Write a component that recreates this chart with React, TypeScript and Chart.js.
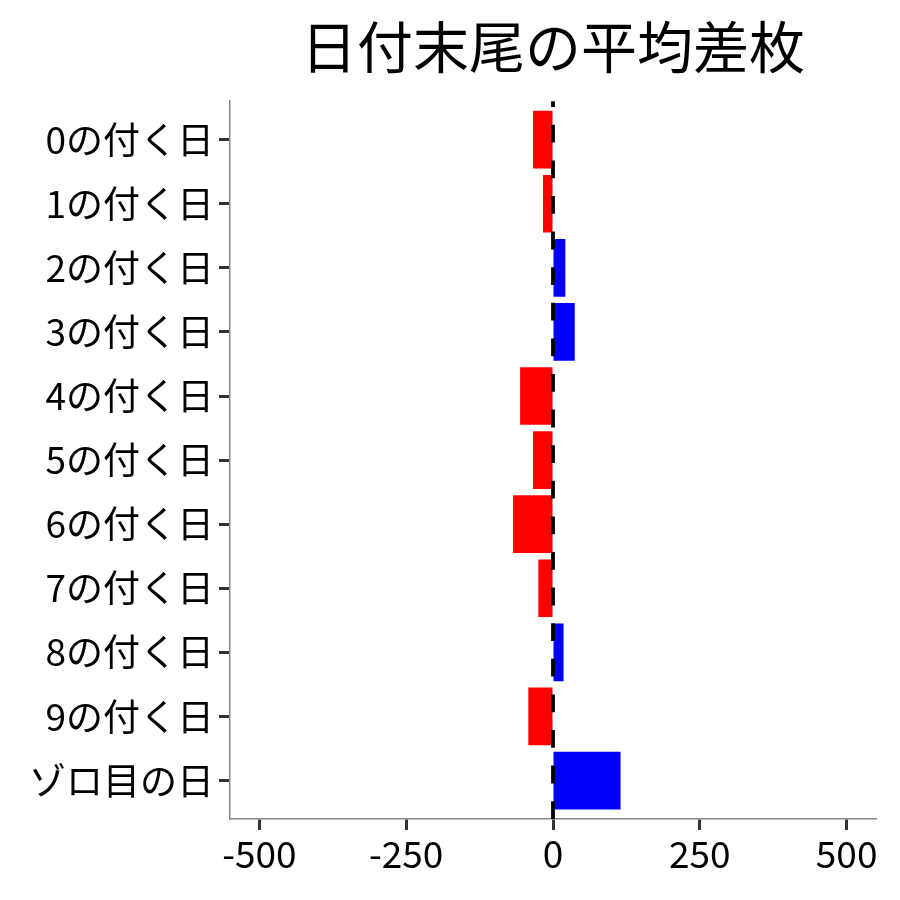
import React, { useEffect, useRef } from "react";
import { Chart, registerables } from "chart.js";

Chart.register(...registerables);

const title = "日付末尾の平均差枚";
const categories = [
  "0の付く日",
  "1の付く日",
  "2の付く日",
  "3の付く日",
  "4の付く日",
  "5の付く日",
  "6の付く日",
  "7の付く日",
  "8の付く日",
  "9の付く日",
  "ゾロ目の日",
];
const values = [-34, -17, 21, 37, -56, -34, -68, -25, 18, -42, 115];
const xTicks = [-500, -250, 0, 250, 500];

const FONT = "'Noto Sans CJK JP', 'Noto Sans', sans-serif";

const zeroLine = {
  id: "zeroLine",
  afterDatasetsDraw(chart: any) {
    const { ctx, chartArea, scales } = chart;
    const x = scales.x.getPixelForValue(0);
    ctx.save();
    ctx.strokeStyle = "#000000";
    ctx.lineWidth = 3.8;
    ctx.setLineDash([17.8, 17.8]);
    ctx.beginPath();
    ctx.moveTo(x, chartArea.bottom);
    ctx.lineTo(x, chartArea.top);
    ctx.stroke();
    ctx.restore();
  },
};

export default function App() {
  const ref = useRef<HTMLCanvasElement>(null);
  useEffect(() => {
    if (!ref.current) return;
    const chart = new Chart(ref.current, {
      type: "bar",
      data: {
        datasets: [
          {
            data: values.map((v, i) => ({ x: v, y: i })),
            backgroundColor: values.map((v) => (v >= 0 ? "#0000FF" : "#FF0000")),
            borderWidth: 0,
            barPercentage: 0.9,
            categoryPercentage: 1.0,
          },
        ],
      },
      plugins: [zeroLine],
      options: {
        indexAxis: "y",
        responsive: false,
        animation: false,
        layout: { padding: { left: 0, right: 24, top: 0, bottom: 0 } },
        plugins: {
          legend: { display: false },
          tooltip: { enabled: false },
          title: {
            display: true,
            text: title,
            fullSize: false,
            color: "#000000",
            font: { family: FONT, size: 56, weight: "normal", lineHeight: 1.2 },
            padding: { top: 13, bottom: 21 },
          },
        },
        scales: {
          x: {
            type: "linear",
            min: -550,
            max: 550,
            afterFit(scale: any) {
              scale.height = 81;
            },
            afterBuildTicks(scale: any) {
              scale.ticks = xTicks.map((v) => ({ value: v }));
            },
            ticks: {
              stepSize: 250,
              includeBounds: false,
              color: "#000000",
              padding: 2,
              maxRotation: 0,
              font: { family: FONT, size: 37 },
              callback: (v: any) => String(v),
            },
            grid: {
              display: true,
              drawOnChartArea: false,
              drawTicks: true,
              tickLength: 11,
              tickWidth: 3,
              tickColor: "#333333",
            },
            border: { display: true, color: "#888888", width: 1.5 },
          },
          y: {
            type: "linear",
            reverse: true,
            offset: false,
            min: -0.6,
            max: 10.6,
            afterFit(scale: any) {
              scale.width = 230;
            },
            afterBuildTicks(scale: any) {
              scale.ticks = categories.map((_, i) => ({ value: i }));
            },
            ticks: {
              stepSize: 1,
              includeBounds: false,
              autoSkip: false,
              color: "#000000",
              padding: 5,
              font: { family: FONT, size: 37 },
              callback: (v: any) => categories[v] ?? "",
            },
            grid: {
              display: true,
              offset: false,
              drawOnChartArea: false,
              drawTicks: true,
              tickLength: 11,
              tickWidth: 3,
              tickColor: "#333333",
            },
            border: { display: true, color: "#888888", width: 1.5 },
          },
        },
      },
    } as any);
    return () => chart.destroy();
  }, []);
  return (
    <div style={{ position: "fixed", left: 0, top: 0, width: 900, height: 900, background: "#ffffff" }}>
      <canvas ref={ref} width={900} height={900} />
    </div>
  );
}
